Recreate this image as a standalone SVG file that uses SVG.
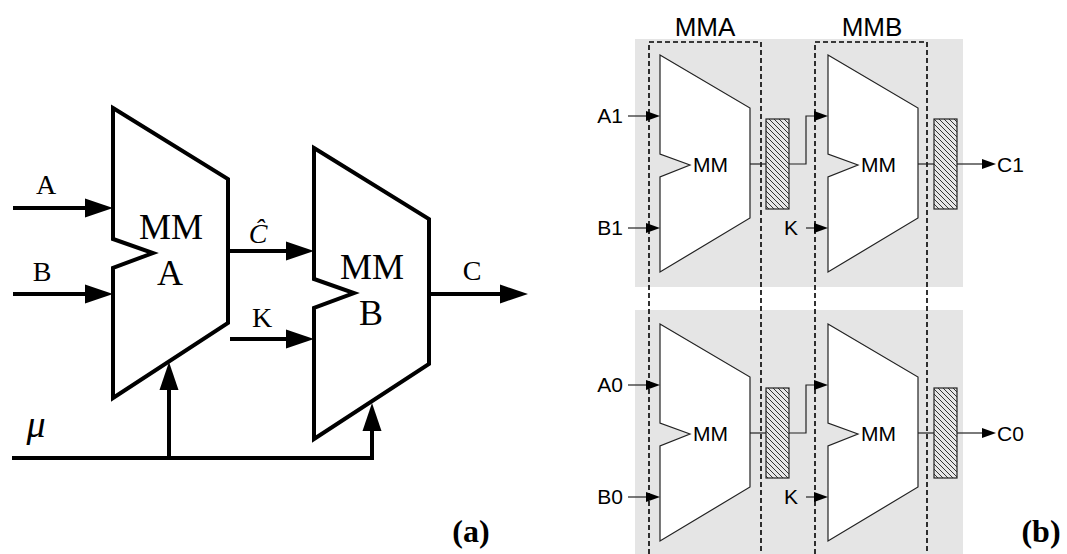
<svg xmlns="http://www.w3.org/2000/svg" width="1067" height="554" viewBox="0 0 1067 554">
<style>
.thick{fill:none;stroke:#000;stroke-width:4;stroke-linejoin:miter}
.blk{fill:#fff;stroke:#000;stroke-width:4;stroke-linejoin:miter}
.tr{font-family:"Liberation Serif",serif;font-size:28px;fill:#000}
.big{font-family:"Liberation Serif",serif;font-size:36px;fill:#000;text-anchor:middle}
.lab{font-family:"Liberation Serif",serif;font-size:32px;font-weight:bold;fill:#000;text-anchor:middle}
.sans{font-family:"Liberation Sans",Arial,sans-serif;font-size:21px;fill:#000}
.hdr{font-family:"Liberation Sans",Arial,sans-serif;font-size:26px;fill:#000;text-anchor:middle}
.mm{fill:#fff;stroke:#222;stroke-width:1.2;stroke-linejoin:miter}
.thin{fill:none;stroke:#222;stroke-width:1.2}
.dash{fill:none;stroke:#000;stroke-width:1.6;stroke-dasharray:5 3}
.reg{fill:url(#hatch);stroke:#222;stroke-width:1.2}
</style>
<defs>
<marker id="arrA" markerUnits="userSpaceOnUse" markerWidth="28" markerHeight="19" refX="0" refY="9.5" orient="auto" overflow="visible">
<path d="M0,0 L28,9.5 L0,19 z" fill="#000"/>
</marker>
<marker id="arrB" markerUnits="userSpaceOnUse" markerWidth="14" markerHeight="10" refX="0" refY="5" orient="auto" overflow="visible">
<path d="M0,0 L14,5 L0,10 z" fill="#000"/>
</marker>
<pattern id="hatch" patternUnits="userSpaceOnUse" width="5" height="5">
<rect width="5" height="5" fill="#e6e6e6"/>
<path d="M0,0 L5,5 M-1,4 L1,6 M4,-1 L6,1" stroke="#333" stroke-width="1"/>
</pattern>
</defs>

<!-- Part (a) -->
<g id="mmA">
<polygon class="blk" points="113,108 228,179 228,323 113,398 113,268 153,253 113,239"/>
<text class="big" x="171" y="239">MM</text>
<text class="big" x="170" y="285">A</text>
</g>
<g id="mmB">
<polygon class="blk" points="314,148 429,219 429,364 314,439 314,308 354,293 314,279"/>
<text class="big" x="372" y="279">MM</text>
<text class="big" x="371" y="325">B</text>
</g>
<g id="labels-a">
<text class="tr" x="46" y="194" text-anchor="middle">A</text>
<text class="tr" x="42" y="281" text-anchor="middle">B</text>
<text class="tr" x="258" y="243" text-anchor="middle" font-style="italic">Ĉ</text>
<text class="tr" x="262" y="327" text-anchor="middle">K</text>
<text class="tr" x="472" y="280" text-anchor="middle">C</text>
<text class="tr" x="36" y="437" text-anchor="middle" style="font-style:italic;font-size:38px">μ</text>
<text class="lab" x="471" y="542">(a)</text>
</g>

<!-- Part (b) backgrounds -->
<g id="bg-b">
<rect x="635" y="39" width="328" height="248" fill="#e5e5e5"/>
<rect x="635" y="310" width="328" height="244" fill="#e5e5e5"/>
</g>

<g id="mma-row1">
<polygon class="mm" points="660,55 750,108 750,218 660,272 660,177 690,165 660,154"/>
<text class="sans" x="693" y="172">MM</text>
</g>
<g id="mmb-row1">
<polygon class="mm" points="828,55 918,108 918,218 828,272 828,177 858,165 828,154"/>
<text class="sans" x="861" y="172">MM</text>
</g>
<g id="mma-row0">
<polygon class="mm" points="660,324 750,377 750,487 660,541 660,446 690,434 660,423"/>
<text class="sans" x="693" y="441">MM</text>
</g>
<g id="mmb-row0">
<polygon class="mm" points="828,324 918,377 918,487 828,541 828,446 858,434 828,423"/>
<text class="sans" x="861" y="441">MM</text>
</g>
<g id="reg-a1"><rect class="reg" x="766" y="119" width="23" height="90"/></g>
<g id="reg-b1"><rect class="reg" x="934" y="119" width="23" height="90"/></g>
<g id="reg-a0"><rect class="reg" x="766" y="388" width="23" height="90"/></g>
<g id="reg-b0"><rect class="reg" x="934" y="388" width="23" height="90"/></g>

<g id="dashed-boxes">
<path class="dash" d="M649,554 V42 H761 V554"/>
<path class="dash" d="M815,554 V42 H927 V554"/>
<text class="hdr" x="705" y="36">MMA</text>
<text class="hdr" x="872" y="36">MMB</text>
</g>

<g id="labels-b">
<text class="sans" x="623" y="123" text-anchor="end">A1</text>
<text class="sans" x="623" y="235" text-anchor="end">B1</text>
<text class="sans" x="798" y="235" text-anchor="end">K</text>
<text class="sans" x="997" y="172">C1</text>
<text class="sans" x="623" y="392" text-anchor="end">A0</text>
<text class="sans" x="623" y="504" text-anchor="end">B0</text>
<text class="sans" x="798" y="504" text-anchor="end">K</text>
<text class="sans" x="997" y="441">C0</text>
<text class="lab" x="1041" y="542">(b)</text>
</g>

<g id="connectors">
<!-- (a) -->
<path class="thick" d="M13,208 H85" marker-end="url(#arrA)"/>
<path class="thick" d="M13,294 H85" marker-end="url(#arrA)"/>
<path class="thick" d="M228,251 H286" marker-end="url(#arrA)"/>
<path class="thick" d="M230,339 H286" marker-end="url(#arrA)"/>
<path class="thick" d="M429,294 H500" marker-end="url(#arrA)"/>
<path class="thick" d="M12,458 H372 V431" marker-end="url(#arrA)"/>
<path class="thick" d="M169,458 V390" marker-end="url(#arrA)"/>
<!-- (b) row 1 -->
<path class="thin" d="M628,116 H646" marker-end="url(#arrB)"/>
<path class="thin" d="M628,228 H646" marker-end="url(#arrB)"/>
<path class="thin" d="M750,164 H766"/>
<path class="thin" d="M789,164 H806 V116 H814" marker-end="url(#arrB)"/>
<path class="thin" d="M806,228 H814" marker-end="url(#arrB)"/>
<path class="thin" d="M918,164 H934"/>
<path class="thin" d="M957,164 H982" marker-end="url(#arrB)"/>
<!-- (b) row 0 -->
<path class="thin" d="M628,385 H646" marker-end="url(#arrB)"/>
<path class="thin" d="M628,497 H646" marker-end="url(#arrB)"/>
<path class="thin" d="M750,433 H766"/>
<path class="thin" d="M789,433 H806 V385 H814" marker-end="url(#arrB)"/>
<path class="thin" d="M806,497 H814" marker-end="url(#arrB)"/>
<path class="thin" d="M918,433 H934"/>
<path class="thin" d="M957,433 H982" marker-end="url(#arrB)"/>
</g>
</svg>
